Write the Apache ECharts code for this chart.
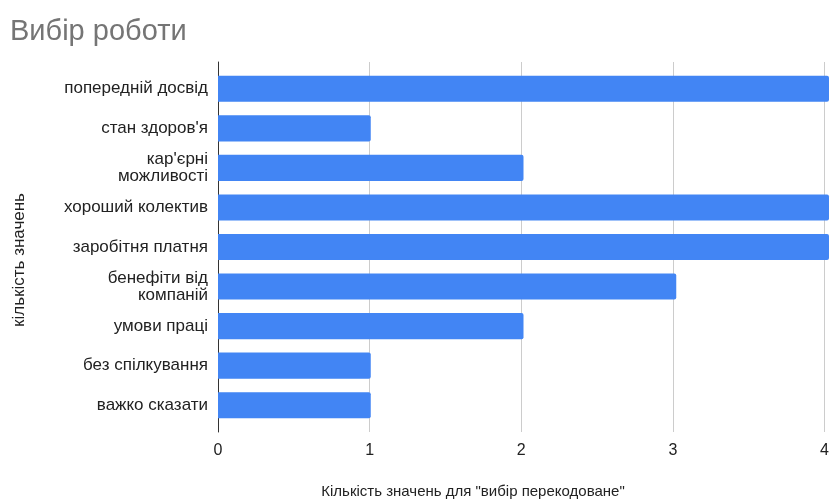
<!DOCTYPE html>
<html>
<head>
<meta charset="utf-8">
<script src="https://cdn.jsdelivr.net/npm/echarts@6/dist/echarts.min.js"></script>
<style>
  html, body { margin: 0; padding: 0; background: #fff; }
  #chart { width: 832px; height: 502px; }
</style>
</head>
<body>
<div id="chart"></div>
<script>
// Reasons for choosing a job, count of answers per reason
const categories = [
  'попередній досвід',
  "стан здоров'я",
  "кар'єрні\nможливості",
  'хороший колектив',
  'заробітня платня',
  'бенефіти від\nкомпаній',
  'умови праці',
  'без спілкування',
  'важко сказати'
];
const counts = [4, 1, 2, 4, 4, 3, 2, 1, 1];
const xTicks = [0, 1, 2, 3, 4];

const titleText = 'Вибір роботи';
const xAxisTitle = 'Кількість значень для "вибір перекодоване"';
const yAxisTitle = 'кількість значень';

const fontFamily = '"Liberation Sans", Arial, sans-serif';

const chart = echarts.init(document.getElementById('chart'), null, { renderer: 'canvas' });

chart.setOption({
  animation: false,
  backgroundColor: '#ffffff',
  textStyle: { fontFamily: fontFamily },
  title: {
    text: titleText,
    left: 5,
    top: 12,
    textStyle: { fontSize: 29, fontWeight: 'normal', color: '#757575', fontFamily: fontFamily }
  },
  grid: [
    // frame: gridlines and the baseline
    { left: 218, right: 3, top: 62, bottom: 70 },
    // bars, inset slightly from the frame
    { left: 218, right: 3, top: 69, bottom: 77 }
  ],
  xAxis: [
    {
      gridIndex: 0,
      type: 'value',
      min: xTicks[0],
      max: xTicks[xTicks.length - 1],
      interval: 1,
      axisLine: { show: false },
      axisTick: { show: false },
      splitLine: { show: true, lineStyle: { color: '#cccccc', width: 1 } },
      axisLabel: {
        margin: 11,
        fontSize: 16,
        color: '#222222',
        fontFamily: fontFamily
      }
    },
    {
      gridIndex: 1,
      type: 'value',
      min: xTicks[0],
      max: xTicks[xTicks.length - 1],
      show: false
    }
  ],
  yAxis: [
    {
      gridIndex: 0,
      type: 'value',
      min: 0,
      max: 1,
      axisLine: { show: true, onZero: false, lineStyle: { color: '#333333', width: 1 } },
      axisTick: { show: false },
      axisLabel: { show: false },
      splitLine: { show: false }
    },
    {
      gridIndex: 1,
      type: 'category',
      inverse: true,
      data: categories,
      axisLine: { show: false },
      axisTick: { show: false },
      splitLine: { show: false },
      axisLabel: {
        margin: 10,
        fontSize: 17,
        lineHeight: 17,
        color: '#222222',
        align: 'right',
        fontFamily: fontFamily
      }
    }
  ],
  series: [
    {
      type: 'bar',
      xAxisIndex: 1,
      yAxisIndex: 1,
      data: counts,
      barCategoryGap: '34%',
      itemStyle: { color: '#4285f4', borderRadius: [0, 2, 2, 0] }
    }
  ],
  graphic: [
    {
      type: 'text',
      x: 473,
      y: 492,
      style: {
        text: xAxisTitle,
        fontSize: 15,
        fill: '#222222',
        fontFamily: fontFamily,
        textAlign: 'center',
        textVerticalAlign: 'middle'
      }
    },
    {
      type: 'text',
      x: 19,
      y: 260,
      rotation: Math.PI / 2,
      style: {
        text: yAxisTitle,
        fontSize: 17,
        fill: '#222222',
        fontFamily: fontFamily,
        textAlign: 'center',
        textVerticalAlign: 'middle'
      }
    }
  ]
});
</script>
</body>
</html>
